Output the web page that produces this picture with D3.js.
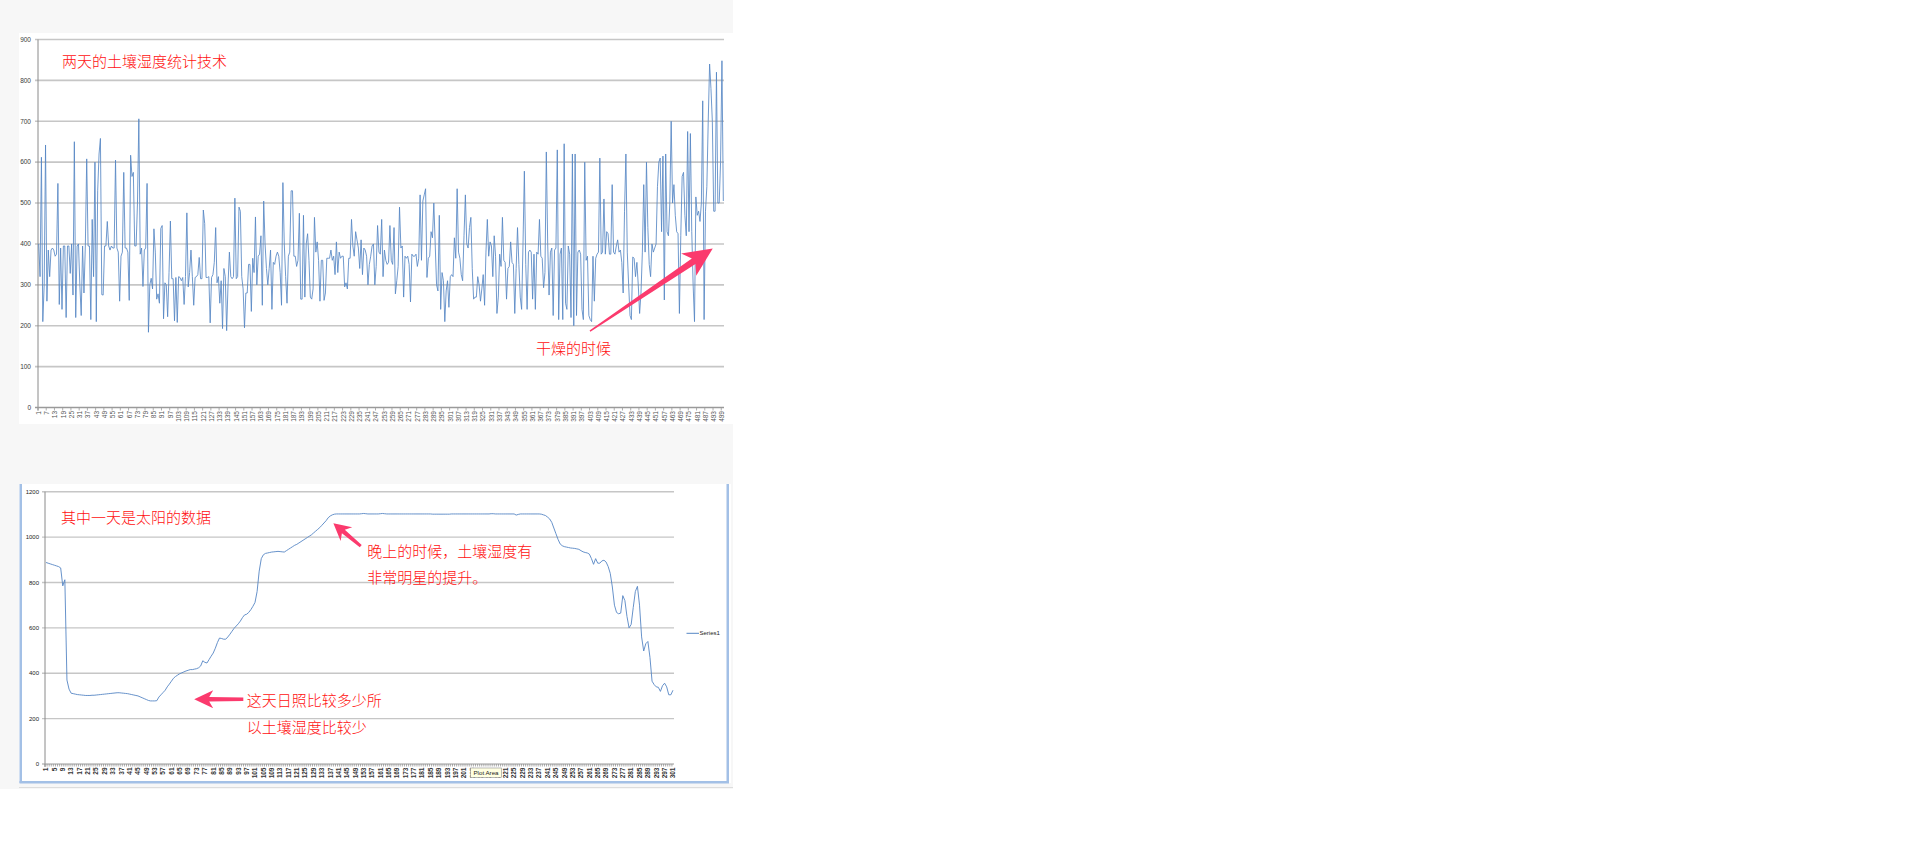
<!DOCTYPE html>
<html><head><meta charset="utf-8">
<script src="https://cdn.jsdelivr.net/npm/d3@7"></script>
<style>
html,body{margin:0;padding:0;background:#ffffff;}
svg{display:block;}
</style></head>
<body>
<svg id="chart" width="1914" height="853"></svg>
<script>
// ---------------- DATA ----------------
// Chart 1: two days of soil-moisture readings (500 samples)
const twoDayValues = [
400,320,612,210,300,642,260,385,320,385,
390,385,370,375,548,252,390,240,395,
395,220,395,395,328,400,275,650,220,395,
400,300,225,395,280,395,608,395,395,215,
460,320,600,210,530,620,658,276,275,395,
395,455,395,385,395,390,390,605,390,
380,260,370,380,575,390,390,380,262,617,
565,575,395,395,500,706,375,390,296,385,
390,548,184,300,316,290,437,380,265,278,
255,438,445,217,305,300,222,330,456,315,
315,212,318,208,320,318,310,318,252,
320,476,295,330,385,320,250,318,320,
325,367,315,315,483,450,318,318,320,207,
318,325,355,440,305,320,255,310,193,340,
320,188,300,380,320,315,320,512,315,320,
490,480,320,290,195,280,280,350,
350,235,365,330,466,300,370,375,420,250,
505,400,340,300,340,385,240,355,350,370,
380,370,330,250,550,400,320,255,370,380,
530,530,370,370,345,360,475,265,265,470,
270,400,425,360,270,265,290,465,380,405,
360,260,360,360,262,280,365,365,365,385,
360,370,325,405,330,380,365,370,370,295,
305,290,365,365,460,395,370,430,410,390,
340,410,325,390,385,370,300,350,370,395,
400,300,345,445,380,375,460,320,385,360,
350,355,445,360,350,440,278,310,345,490,
390,395,270,370,365,370,350,258,375,370,
370,375,345,365,520,360,505,520,535,318,
365,370,430,415,500,400,300,285,470,240,
330,310,210,285,310,245,320,325,320,415,
365,535,380,365,325,310,420,520,400,390,
440,465,340,265,270,270,320,300,260,290,
325,250,380,460,370,405,395,320,420,370,
230,270,
375,345,465,360,355,265,340,345,405,355,
350,230,340,440,350,270,240,400,578,350,
240,380,385,380,265,375,240,380,375,460,
370,365,293,330,625,400,275,380,390,225,
385,390,630,215,375,390,215,645,255,240,
395,375,220,620,200,620,225,380,385,375,
240,215,600,360,370,225,215,210,370,260,
365,375,380,610,375,380,510,375,430,425,
375,375,545,380,375,395,410,380,385,355,
280,480,620,380,300,225,215,368,365,320,
355,300,230,280,380,545,380,
600,440,350,320,400,380,390,400,540,600,
610,430,615,263,620,430,420,500,700,500,
545,470,430,425,230,420,565,575,470,420,
675,430,670,430,300,210,515,470,480,455,
500,750,215,480,540,700,840,780,700,480,
480,820,500,500,600,848,505
];
const twoDayYTicks = [0,100,200,300,400,500,600,700,800,900];

// Chart 2: one sunny day (301 samples)
const sunnyDayValues = [
888,885,882,879,876,873,870,864,785,812,
370,330,312,310,308,306,305,304,303,302,
302,302,303,303,304,305,306,307,308,309,
310,311,312,313,314,314,313,312,311,310,
308,306,304,302,300,296,292,288,284,280,
278,278,278,279,295,305,315,325,340,352,
365,378,386,392,398,402,406,410,413,416,
416,418,420,424,432,455,448,445,460,475,
489,510,535,555,553,550,550,560,572,585,
598,608,618,630,645,657,660,668,680,695,
712,760,850,905,922,928,930,932,934,935,
936,937,936,935,934,940,946,952,958,964,
968,974,980,986,992,998,1004,1010,1018,1026,
1034,1042,1052,1062,1072,1085,1093,1098,1101,1102,
1102,1102,1102,1102,1102,1102,1102,1102,1102,1102,
1102,1103,1104,1103,1102,1102,1102,1102,1102,1102,
1103,1104,1103,1102,1102,1102,1102,1102,1102,1102,
1102,1102,1102,1102,1102,1102,1102,1102,1102,1102,
1102,1102,1102,1102,1102,1101,1101,1101,1101,1101,
1101,1101,1101,1101,1102,1102,1102,1102,1102,1102,
1102,1102,1102,1102,1102,1102,1102,1102,1102,1102,
1102,1102,1102,1103,1103,1102,1102,1102,1102,1102,
1102,1102,1102,1102,1102,1097,1100,1102,1102,1102,
1102,1102,1102,1102,1102,1102,1102,1101,
1098,1095,1088,1080,1065,1040,1015,990,970,962,
958,956,954,952,951,950,
948,946,940,935,932,930,925,905,880,905,
885,885,895,898,890,870,840,780,700,668,
662,665,742,720,650,600,615,690,760,783,
700,560,498,530,540,470,365,350,340,338,
320,345,356,340,305,305,325
];
const sunnyYTicks = [0,200,400,600,800,1000,1200];

const twoDayCategories = twoDayValues.map((d, i) => i + 1);
const sunnyCategories = sunnyDayValues.map((d, i) => i + 1);
const twoDayXLabels = twoDayCategories.filter(c => (c - 1) % 6 === 0);
const sunnyXLabels = sunnyCategories.filter(c => (c - 1) % 4 === 0);

const topTitle = "两天的土壤湿度统计技术";
const topNote = "干燥的时候";
const bottomTitle = "其中一天是太阳的数据";
const bottomNote1 = ["晚上的时候，土壤湿度有", "非常明星的提升。"];
const bottomNote2 = ["这天日照比较多少所", "以土壤湿度比较少"];
const legendLabel = "Series1";
const tooltipLabel = "Plot Area";

// ---------------- DRAWING ----------------
const svg = d3.select("#chart");
const LINE = "#5686c4";
const GRID = "#c6c6c6";
const RED = "#ff1010";
const ARROW = "#fb3a6d";
const CJK = "'Noto Sans CJK SC','Noto Sans',sans-serif";
const LAT = "'Liberation Sans',Arial,sans-serif";

// page panel
svg.append("rect").attr("x",0).attr("y",0).attr("width",733).attr("height",789).attr("fill","#f7f7f7");

function arrowPath(x0,y0,x1,y1,wTail,wShaft,headLen,headHalf,notch){
  const dx=x1-x0, dy=y1-y0, L=Math.hypot(dx,dy), ux=dx/L, uy=dy/L, nx=-uy, ny=ux;
  const P=(a,b)=>[x0+ux*a+nx*b, y0+uy*a+ny*b];
  const hb=L-headLen;
  const pts=[P(0,-wTail/2),P(hb+notch,-wShaft/2),P(hb,-headHalf),P(L,0),P(hb,headHalf),P(hb+notch,wShaft/2),P(0,wTail/2)];
  return "M"+pts.map(p=>p[0].toFixed(2)+","+p[1].toFixed(2)).join("L")+"Z";
}

// ========== TOP CHART ==========
svg.append("rect").attr("x",19).attr("y",33).attr("width",714).attr("height",391).attr("fill","#ffffff");
const g1 = svg.append("g");
const x1 = d3.scalePoint().domain(twoDayCategories).range([38,724]).padding(0.5);
const y1 = d3.scaleLinear().domain([0,900]).range([407.5,39.5]);
const step1 = x1.step();
const xAt1 = i => x1(1) + (i-1)*step1;

g1.selectAll("line.grid").data(twoDayYTicks.filter(t=>t>0)).join("line")
  .attr("x1",35).attr("x2",724).attr("y1",d=>y1(d)).attr("y2",d=>y1(d))
  .attr("stroke",GRID).attr("stroke-width",1.6);
g1.append("line").attr("x1",38).attr("x2",38).attr("y1",y1(900)).attr("y2",y1(0)+3).attr("stroke","#8a8a8a").attr("stroke-width",1);
g1.append("line").attr("x1",35).attr("x2",724).attr("y1",y1(0)).attr("y2",y1(0)).attr("stroke","#9a9a9a").attr("stroke-width",1.6);
g1.selectAll("text.yt").data(twoDayYTicks).join("text")
  .attr("x",31).attr("y",d=>y1(d)).attr("dy","0.35em").attr("text-anchor","end")
  .attr("font-family",LAT).attr("font-size",6.5).attr("fill","#3a3a3a").text(d=>d);
g1.selectAll("line.xt").data(twoDayXLabels).join("line")
  .attr("x1",d=>x1(d)-step1/2).attr("x2",d=>x1(d)-step1/2).attr("y1",y1(0)).attr("y2",y1(0)+3)
  .attr("stroke","#9a9a9a").attr("stroke-width",0.8);
g1.selectAll("text.xl").data(twoDayXLabels).join("text")
  .attr("transform",d=>`translate(${x1(d)},${y1(0)+3.5}) rotate(-90)`)
  .attr("dy","0.35em").attr("text-anchor","end")
  .attr("font-family",LAT).attr("font-size",6.5).attr("fill","#555").text(d=>d);
g1.append("path").datum(twoDayValues)
  .attr("d", d3.line().x((d,i)=>x1(twoDayCategories[i])).y(d=>y1(d)))
  .attr("fill","none").attr("stroke",LINE).attr("stroke-width",0.85).attr("stroke-linejoin","round");
g1.append("text").attr("x",xAt1(18)).attr("y",y1(832)).attr("font-family",CJK).attr("font-weight",300).attr("font-size",15).attr("fill",RED).text(topTitle);
g1.append("text").attr("x",xAt1(363.5)).attr("y",y1(132)).attr("font-family",CJK).attr("font-weight",300).attr("font-size",15).attr("fill",RED).text(topNote);
g1.append("path").attr("d",arrowPath(xAt1(402.8),y1(187),xAt1(492.3),y1(389),1.5,6.5,29,13.5,6)).attr("fill",ARROW);

// ========== BOTTOM CHART ==========
svg.append("rect").attr("x",19).attr("y",484).attr("width",712).attr("height",299).attr("fill","#ffffff");
const g2 = svg.append("g");
const x2 = d3.scalePoint().domain(sunnyCategories).range([45,674]).padding(0.5);
const y2 = d3.scaleLinear().domain([0,1200]).range([764,491.7]);
const step2 = x2.step();
const xAt2 = i => x2(1) + (i-1)*step2;

g2.selectAll("line.grid").data(sunnyYTicks.filter(t=>t>0)).join("line")
  .attr("x1",42).attr("x2",674).attr("y1",d=>y2(d)).attr("y2",d=>y2(d))
  .attr("stroke",GRID).attr("stroke-width",1.4);
g2.append("line").attr("x1",45).attr("x2",45).attr("y1",y2(1200)).attr("y2",y2(0)+3).attr("stroke","#8a8a8a").attr("stroke-width",1);
g2.append("line").attr("x1",42).attr("x2",674).attr("y1",y2(0)).attr("y2",y2(0)).attr("stroke","#9a9a9a").attr("stroke-width",1.2);
g2.selectAll("text.yt").data(sunnyYTicks).join("text")
  .attr("x",39).attr("y",d=>y2(d)).attr("dy","0.35em").attr("text-anchor","end")
  .attr("font-family",LAT).attr("font-size",6).attr("fill","#222").text(d=>d);
g2.selectAll("line.xt").data(sunnyCategories).join("line")
  .attr("x1",d=>x2(d)-step2/2).attr("x2",d=>x2(d)-step2/2).attr("y1",y2(0)).attr("y2",y2(0)+2.5)
  .attr("stroke","#8a8a8a").attr("stroke-width",0.7);
g2.selectAll("text.xl").data(sunnyXLabels).join("text")
  .attr("transform",d=>`translate(${x2(d)},${y2(0)+3.5}) rotate(-90)`)
  .attr("dy","0.35em").attr("text-anchor","end")
  .attr("font-family",LAT).attr("font-size",6.5).attr("font-weight","bold").attr("fill","#333").text(d=>d);
g2.append("path").datum(sunnyDayValues)
  .attr("d", d3.line().x((d,i)=>x2(sunnyCategories[i])).y(d=>y2(d)))
  .attr("fill","none").attr("stroke",LINE).attr("stroke-width",0.9).attr("stroke-linejoin","round");
g2.append("line").attr("x1",686.5).attr("x2",699).attr("y1",633.3).attr("y2",633.3).attr("stroke",LINE).attr("stroke-width",1);
g2.append("text").attr("x",699.5).attr("y",633.3).attr("dy","0.35em").attr("font-family",LAT).attr("font-size",6).attr("fill","#222").text(legendLabel);
g2.append("text").attr("x",xAt2(8.2)).attr("y",y2(1062)).attr("font-family",CJK).attr("font-weight",300).attr("font-size",15).attr("fill",RED).text(bottomTitle);
g2.selectAll("text.n1").data(bottomNote1).join("text")
  .attr("x",xAt2(154.7)).attr("y",(d,i)=>y2(912 - i*113)).attr("font-family",CJK).attr("font-weight",300).attr("font-size",15).attr("fill",RED).text(d=>d);
g2.selectAll("text.n2").data(bottomNote2).join("text")
  .attr("x",xAt2(97)).attr("y",(d,i)=>y2(254 - i*116)).attr("font-family",CJK).attr("font-weight",300).attr("font-size",15).attr("fill",RED).text(d=>d);
g2.append("path").attr("d",arrowPath(xAt2(151.6),y2(960),xAt2(138.5),y2(1061),3,4.5,17,9,4)).attr("fill",ARROW);
g2.append("path").attr("d",arrowPath(xAt2(95.4),y2(285),xAt2(71.9),y2(285),3.5,4.5,19,9,4)).attr("fill",ARROW);
g2.append("rect").attr("x",470.5).attr("y",768).attr("width",31).attr("height",9.5).attr("fill","#ffffe1").attr("stroke","#8c8c8c").attr("stroke-width",0.6);
g2.append("text").attr("x",486).attr("y",772.8).attr("dy","0.35em").attr("text-anchor","middle").attr("font-family",LAT).attr("font-size",6.2).attr("fill","#222").text(tooltipLabel);

// selection frame of the embedded chart
const BLUE = "#a3c0e6";
svg.append("rect").attr("x",19.5).attr("y",484).attr("width",2.5).attr("height",299).attr("fill",BLUE);
svg.append("rect").attr("x",726.5).attr("y",484).attr("width",2.5).attr("height",299).attr("fill",BLUE);
svg.append("rect").attr("x",19.5).attr("y",781).attr("width",709.5).attr("height",2.5).attr("fill",BLUE);
svg.append("line").attr("x1",19).attr("x2",733).attr("y1",787.5).attr("y2",787.5).attr("stroke","#d6d6d6").attr("stroke-width",0.8);
</script>
</body></html>
